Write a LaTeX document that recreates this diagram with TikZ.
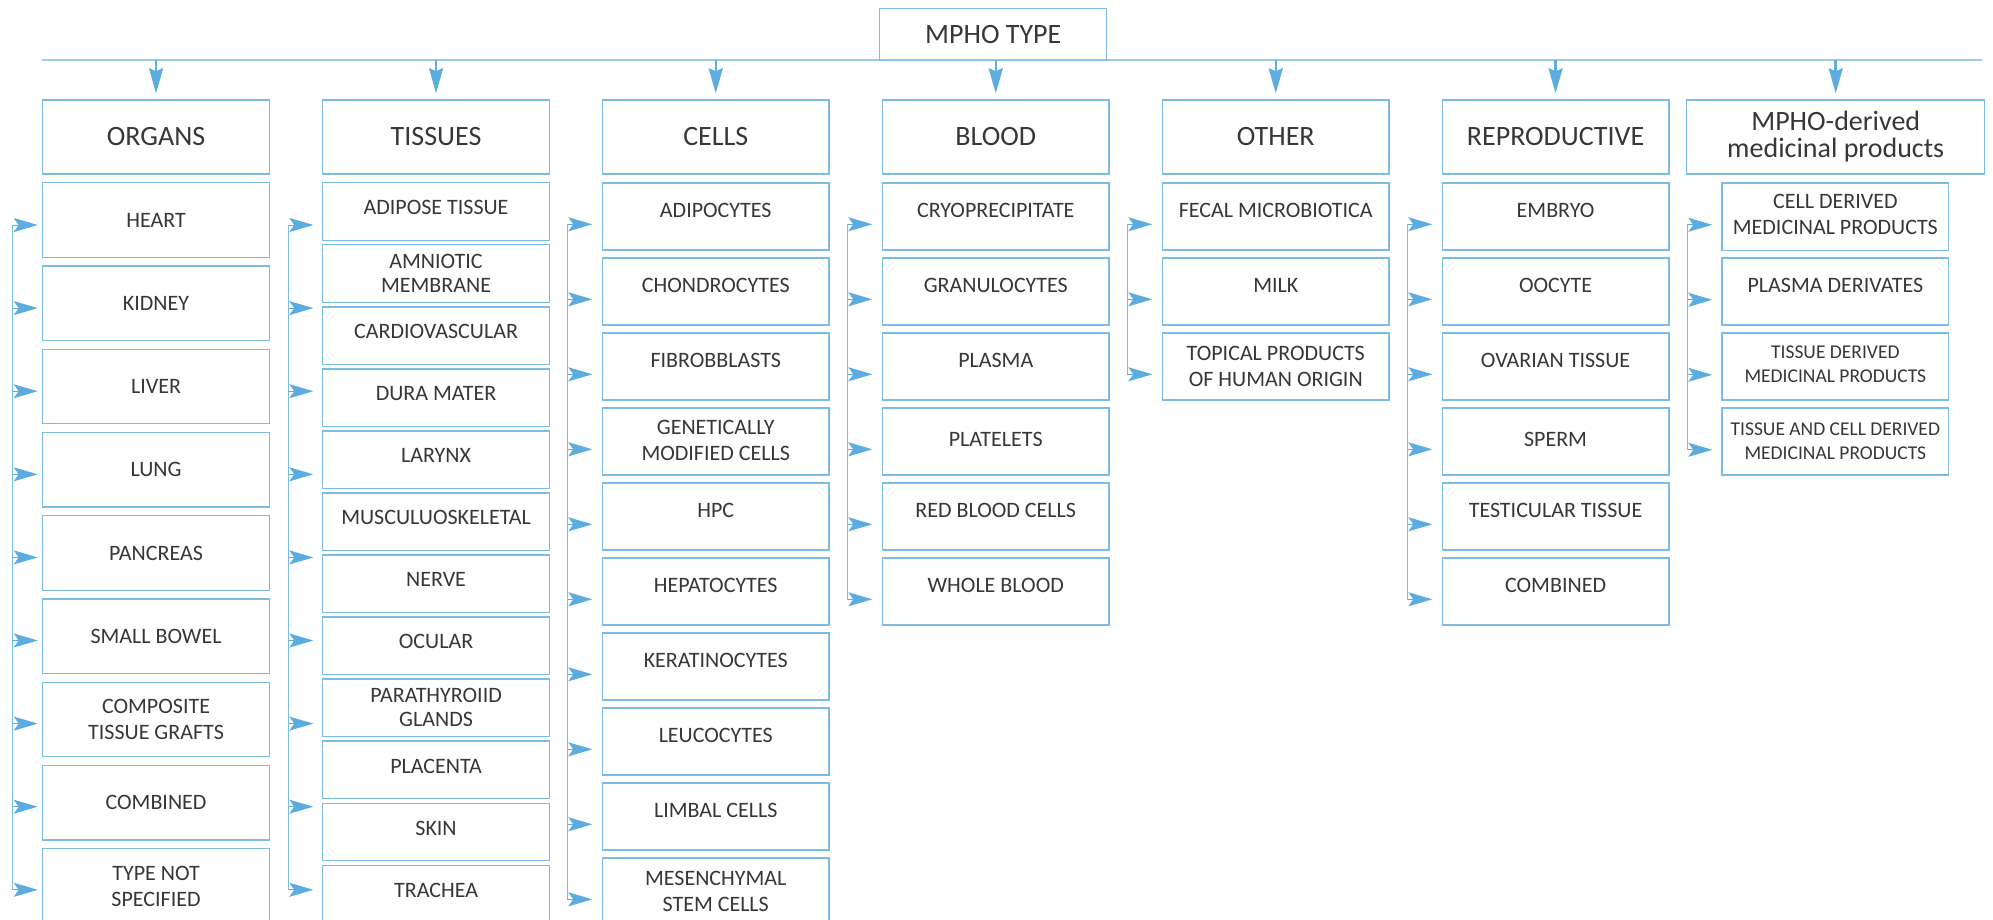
\documentclass[tikz,border=0pt]{standalone}
\usepackage{fontspec}
\setmainfont{Carlito}
\usetikzlibrary{arrows.meta}
\definecolor{boxc}{RGB}{122,188,228}
\definecolor{arrc}{RGB}{92,172,224}
\definecolor{linec}{RGB}{152,204,236}
\definecolor{txt}{RGB}{55,55,55}
\newcommand\mkarrows[5]{% prefix, line x, count, first y, pitch
  \foreach \k in {1,...,#3} {
    \coordinate (#1s\k) at (#2,{#4+(\k-1)*#5});
    \coordinate (#1t\k) at ({#2+25},{#4+(\k-1)*#5});
    \draw[sidearrow] (#1s\k) -- (#1t\k);
  }
  \draw[brk] (#1s1) -- (#1s#3);
}
\begin{document}
\begin{tikzpicture}[x=1pt,y=-1pt,
  base/.style={draw=boxc, line width=1.4pt, anchor=north west, inner sep=0pt,
    align=center, text=txt, font=\fontsize{22}{26}\selectfont},
  catbox/.style={base, minimum width=226.7pt, minimum height=74pt,
    font=\fontsize{28}{27}\selectfont},
  organbox/.style={base, minimum width=226.7pt, minimum height=74.5pt},
  tissuebox/.style={base, minimum width=226.7pt, minimum height=57.5pt,
    font=\fontsize{22}{24}\selectfont},
  cellbox/.style={base, minimum width=226.7pt, minimum height=67pt},
  brk/.style={draw=boxc, line width=1.3pt},
  topline/.style={draw=linec, line width=2pt},
  sidearrow/.style={draw=arrc, fill=arrc, line width=1pt,
    -{Stealth[length=24pt,width=14pt,inset=5pt]}},
  downarrow/.style={draw=arrc, fill=arrc, line width=2.5pt,
    -{Stealth[length=25pt,width=14pt,inset=3pt]}},
]
\useasboundingbox (0,0) rectangle (1993,920);
\clip (0,0) rectangle (1993,920);
\fill[white] (0,0) rectangle (1993,920);

% top line and root
\coordinate (hl) at (42,60);
\coordinate (hr) at (1982,60);
\draw[topline] (hl) -- (hr);
\node[base, minimum width=227pt, minimum height=52pt,
  font=\fontsize{28}{30}\selectfont] (root) at (879,8) {MPHO TYPE};

% categories
\node[catbox] (cO) at (42,99.3) {ORGANS};
\node[catbox] (cT) at (322,99.3) {TISSUES};
\node[catbox] (cC) at (601.7,99.3) {CELLS};
\node[catbox] (cB) at (881.7,99.3) {BLOOD};
\node[catbox] (cX) at (1161.7,99.3) {OTHER};
\node[catbox] (cR) at (1441.5,99.3) {REPRODUCTIVE};
\node[catbox, minimum width=298pt] (cM) at (1686,99.3) {MPHO-derived\\medicinal products};

\foreach \n in {cO,cT,cC,cB,cX,cR,cM}
  \draw[downarrow] (\n.north |- hl) -- ([yshift=6pt]\n.north);

% organs
\foreach \t/\d [count=\i] in {HEART/0pt, KIDNEY/0pt, LIVER/0pt, LUNG/0pt,
    PANCREAS/0pt, SMALL BOWEL/0pt, {COMPOSITE\\TISSUE GRAFTS}/0pt,
    COMBINED/0pt, {TYPE NOT\\SPECIFIED}/0pt}
  \node[organbox, text depth=\d] (o\i) at (42,{182+(\i-1)*83.25}) {\t};

% tissues
\foreach \t/\d [count=\i] in {ADIPOSE TISSUE/8pt, {AMNIOTIC\\MEMBRANE}/0pt,
    CARDIOVASCULAR/8pt, DURA MATER/8pt, LARYNX/8pt, MUSCULUOSKELETAL/8pt,
    NERVE/8pt, OCULAR/8pt, {PARATHYROIID\\GLANDS}/0pt, PLACENTA/8pt,
    SKIN/8pt, TRACHEA/8pt}
  \node[tissuebox, text depth=\d] (t\i) at (322,{182+(\i-1)*62.05}) {\t};

% cells
\foreach \t/\d [count=\i] in {ADIPOCYTES/12pt, CHONDROCYTES/12pt,
    FIBROBBLASTS/12pt, {GENETICALLY\\MODIFIED CELLS}/2pt, HPC/12pt,
    HEPATOCYTES/12pt, KERATINOCYTES/12pt, LEUCOCYTES/12pt,
    LIMBAL CELLS/12pt, {MESENCHYMAL\\STEM CELLS}/0pt}
  \node[cellbox, text depth=\d] (c\i) at (601.7,{182.3+(\i-1)*75}) {\t};

% blood
\foreach \t/\d [count=\i] in {CRYOPRECIPITATE/12pt, GRANULOCYTES/12pt,
    PLASMA/12pt, PLATELETS/4pt, RED BLOOD CELLS/12pt, WHOLE BLOOD/12pt}
  \node[cellbox, text depth=\d] (b\i) at (881.7,{182.3+(\i-1)*75}) {\t};

% other
\foreach \t/\d [count=\i] in {FECAL MICROBIOTICA/12pt, MILK/12pt,
    {TOPICAL PRODUCTS\\OF HUMAN ORIGIN}/0pt}
  \node[cellbox, text depth=\d] (x\i) at (1161.7,{182.3+(\i-1)*75}) {\t};

% reproductive
\foreach \t/\d [count=\i] in {EMBRYO/12pt, OOCYTE/12pt, OVARIAN TISSUE/12pt,
    SPERM/4pt, TESTICULAR TISSUE/12pt, COMBINED/12pt}
  \node[cellbox, text depth=\d] (r\i) at (1441.5,{182.3+(\i-1)*75}) {\t};

% MPHO-derived
\node[cellbox, text depth=4pt] (m1) at (1721.3,182.5) {CELL DERIVED\\MEDICINAL PRODUCTS};
\node[cellbox, text depth=12pt] (m2) at (1721.3,257.3) {PLASMA DERIVATES};
\node[cellbox, text depth=4pt, font=\fontsize{19.5}{24}\selectfont] (m3) at (1721.3,332.3) {TISSUE DERIVED\\MEDICINAL PRODUCTS};
\node[cellbox, text depth=0pt, font=\fontsize{19.5}{24}\selectfont] (m4) at (1721.3,407.3) {TISSUE AND CELL DERIVED\\MEDICINAL PRODUCTS};

% bracket arrows
\mkarrows{ao}{12.7}{9}{225}{83.1}
\mkarrows{at}{288.3}{9}{225}{83.1}
\mkarrows{ac}{567.3}{10}{224.3}{75}
\mkarrows{ab}{847.3}{6}{224.3}{75}
\mkarrows{ax}{1127.3}{3}{224.3}{75}
\mkarrows{ar}{1407.3}{6}{224.3}{75}
\mkarrows{am}{1687.3}{4}{224.8}{75}
\end{tikzpicture}
\end{document}
